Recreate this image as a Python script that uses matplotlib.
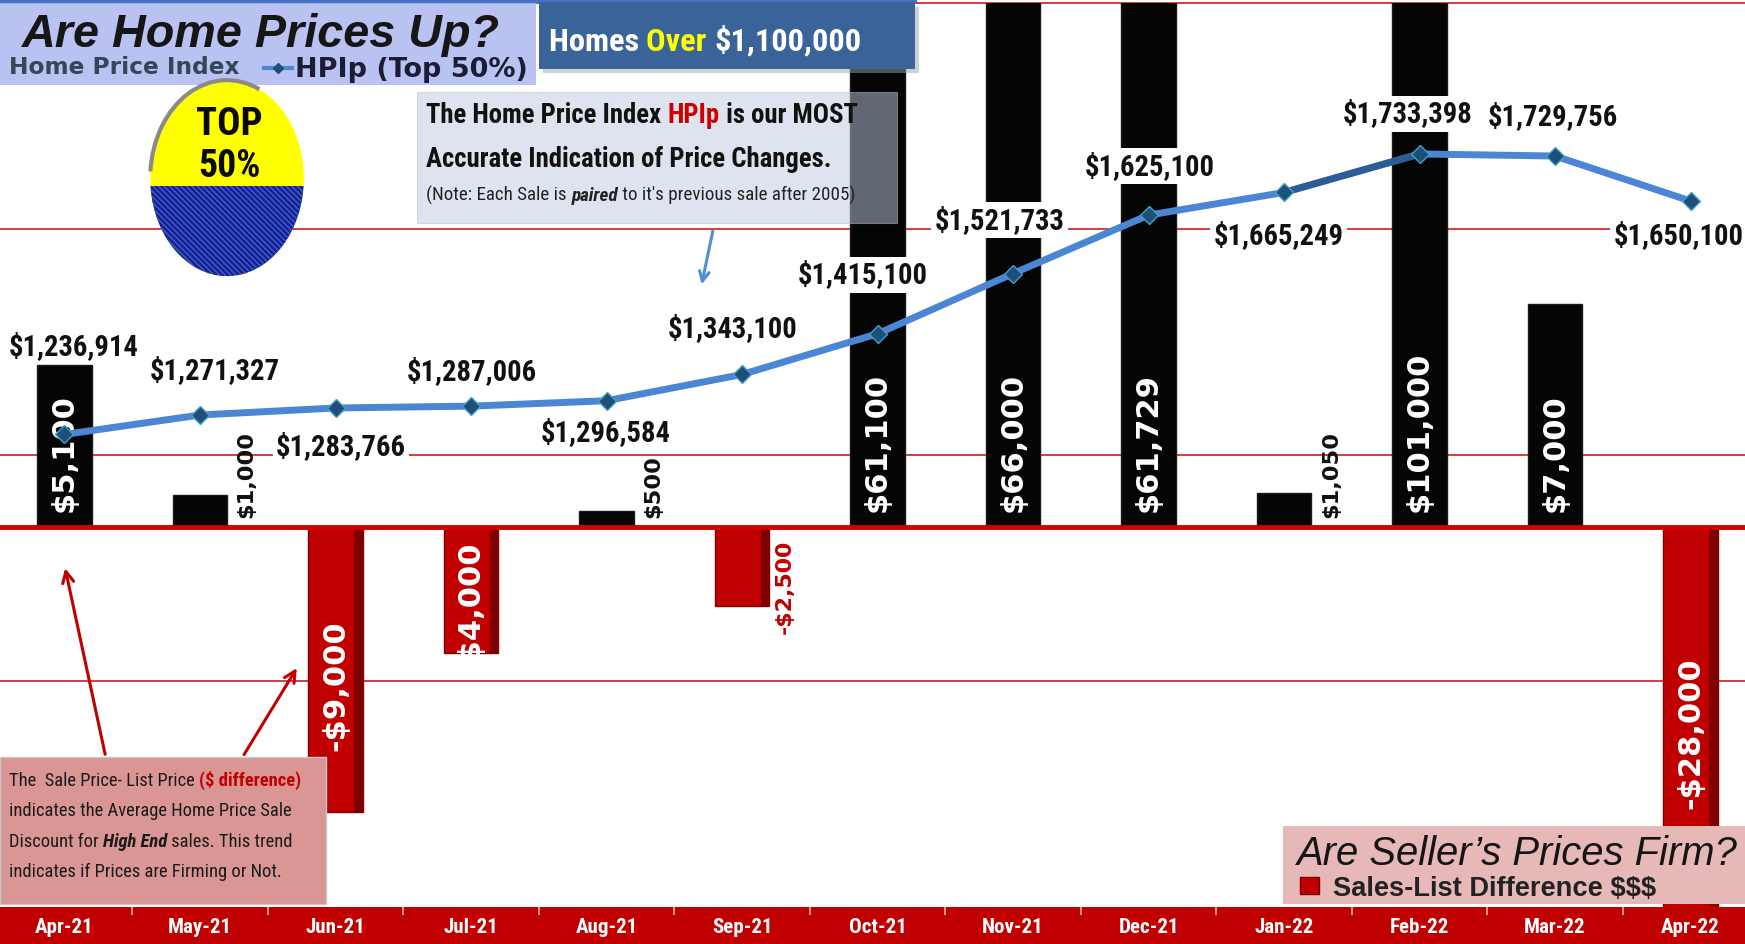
import numpy as np
import matplotlib
matplotlib.use('Agg')
import matplotlib.pyplot as plt
from matplotlib import font_manager as fm
from matplotlib import transforms
from matplotlib.patches import Rectangle, Ellipse, Arc
from matplotlib.font_manager import FontProperties
from matplotlib.lines import Line2D

# ---------------- data ----------------
months = ['Apr-21', 'May-21', 'Jun-21', 'Jul-21', 'Aug-21', 'Sep-21', 'Oct-21',
          'Nov-21', 'Dec-21', 'Jan-22', 'Feb-22', 'Mar-22', 'Apr-22']
hpip = [1236914, 1271327, 1283766, 1287006, 1296584, 1343100, 1415100,
        1521733, 1625100, 1665249, 1733398, 1729756, 1650100]
sales_list_diff = [5100, 1000, -9000, -4000, 500, -2500, 61100,
                   66000, 61729, 1050, 101000, 7000, -28000]
hpi_gridlines = [800000, 1200000, 1600000, 2000000]

# label offsets for HPIp labels (reference pixels; style only)
lab_dx = [8, 13, 5, 1, -1, -8, -13, -12, 1, -5, -11, -2, -11]
lab_dy = [-79, -40, 35, -31, 29, -41, -53, -48, -44, 39, -36, -35, 31]

# ---------------- fonts ----------------
names = {f.name for f in fm.fontManager.ttflist}


def pick_narrow():
    for n in ['Liberation Sans Narrow', 'Arial Narrow', 'Roboto Condensed',
              'Noto Sans Condensed', 'Open Sans Condensed', 'DejaVu Sans Condensed']:
        if n in names:
            return (n, 'normal')
    for pref in ['Roboto', 'Noto Sans', 'DejaVu Sans', 'Open Sans']:
        for f in fm.fontManager.ttflist:
            if f.name == pref and str(f.stretch) in ('condensed', 'semi-condensed', 'extra-condensed', '400', '300'):
                return (pref, 'condensed')
    return ('Liberation Sans', 'normal')


NARROW, NSTRETCH = pick_narrow()
SANS = 'Liberation Sans'
VER = 'DejaVu Sans'
N = 'N'   # marker for the narrow family
plt.rcParams['hatch.linewidth'] = 1.3

W, H = 1745, 944
RW, RH = 1568, 848
S = W / RW            # fig px per reference px
PT = S * 0.72         # points per reference px

fig = plt.figure(figsize=(W / 100, H / 100), dpi=100)
fig.patch.set_facecolor('white')

top_px, bot_px = 3, 815
rect = [0, 1 - bot_px / RH, 1, (bot_px - top_px) / RH]
x = np.arange(len(months))
XL = (-0.476, 12.402)

# base axes: gridlines of HPI scale
axg = fig.add_axes(rect)
axg.set_xlim(*XL)
axg.set_ylim(400000, 2000000)
for v in hpi_gridlines:
    axg.axhline(v, color='#D63C3C', lw=1.4, clip_on=False)
axg.set_yticks([])
axg.set_xticks(x)
axg.set_xticklabels([])
axg.set_xticks(np.arange(-0.5, len(months), 1), minor=True)
axg.tick_params(axis='x', which='major', length=0)
axg.tick_params(axis='x', which='minor', length=6, width=1.2, color='#E9B5B5', direction='out')
for sp in axg.spines.values():
    sp.set_visible(False)

# bars axes
axb = axg.twinx()
axb.set_xlim(*XL)
BLO, BHI = -12000, 16490
axb.set_ylim(BLO, BHI)
bar_colors = ['#050505' if v >= 0 else '#C00000' for v in sales_list_diff]
edge_colors = ['#1A1A1A' if v >= 0 else '#800000' for v in sales_list_diff]
axb.bar(x, sales_list_diff, width=0.4, color=bar_colors, edgecolor=edge_colors, lw=1, zorder=2)
neg = [i for i, v in enumerate(sales_list_diff) if v < 0]
axb.bar(x[neg] + 0.17, [sales_list_diff[i] for i in neg], width=0.06, color='#7E0000', lw=0, zorder=2.1)
axb.axhline(0, color='#D00000', lw=3.5, zorder=3)
axb.set_yticks([])
for sp in axb.spines.values():
    sp.set_visible(False)

# line axes
axl = axg.twinx()
axl.set_xlim(*XL)
axl.set_ylim(400000, 2000000)
axl.set_yticks([])
for sp in axl.spines.values():
    sp.set_visible(False)
axl.plot(x, hpip, color='#4A86D4', lw=5, solid_capstyle='round', zorder=3)
axl.plot(x[9:11], hpip[9:11], color='#2C5C94', lw=5, solid_capstyle='round', zorder=3.1)
axl.plot(x, hpip, ls='none', marker='D', ms=9, mfc='#1F4E79', mec='#3FA2C8', mew=1, zorder=4)

# overlay axes in reference pixel coordinates
ov = fig.add_axes([0, 0, 1, 1], zorder=10)
ov.set_xlim(0, RW)
ov.set_ylim(RH, 0)
ov.axis('off')
ov.patch.set_visible(False)

R = fig.canvas.get_renderer()


def fp(family, size, weight='normal', style='normal'):
    if family == N:
        return FontProperties(family=NARROW, stretch=NSTRETCH, size=size, weight=weight, style=style)
    return FontProperties(family=family, size=size, weight=weight, style=style)


def adv(s, prop):
    t1 = ov.text(0, 0, s + 'l', fontproperties=prop)
    t2 = ov.text(0, 0, 'l', fontproperties=prop)
    w = t1.get_window_extent(R).width - t2.get_window_extent(R).width
    t1.remove(); t2.remove()
    return w / S


def fit(s, family, weight, style, width):
    return 10 * width / adv(s, fp(family, 10, weight, style))


def rich(x0, cy, pieces, size=None, right=None, z=20):
    if right is not None:
        tot = sum(adv(p[0], fp(p[2], 10, p[3], p[4])) for p in pieces)
        size = 10 * (right - x0) / tot
    base = cy + 0.36 * size * (100 / 72) / S
    cx = x0
    for (s, c, fam, w, st) in pieces:
        prop = fp(fam, size, w, st)
        ov.text(cx, base, s, fontproperties=prop, color=c, ha='left', va='baseline', zorder=z)
        cx += adv(s, prop)
    return size


# bottom red band (behind axes)
fig.add_artist(Rectangle((0, 0), 1, 1 - bot_px / RH, transform=fig.transFigure,
                         facecolor='#C00000', edgecolor='none', zorder=-1))
ML = fit('Apr-21', N, 'bold', 'normal', 53)
btrans = transforms.blended_transform_factory(axg.transData, ov.transData)
for i, m in enumerate(months):
    ov.text(i, 833, m, transform=btrans, ha='center', va='center', color='white',
            fontproperties=fp(N, ML, 'bold'))

# HPIp data labels
LS = fit('$1,236,914', N, 'bold', 'normal', 117)
for i, v in enumerate(hpip):
    axl.annotate(f'${v:,}', xy=(i, v), xytext=(lab_dx[i] * PT, -lab_dy[i] * PT),
                 textcoords='offset points', ha='center', va='center',
                 fontproperties=fp(N, LS, 'bold'), color='#111111', zorder=6,
                 bbox=dict(boxstyle='square,pad=0.12', fc='white', ec='none'))

# bar labels
BIG = fit('$61,100', VER, 'bold', 'normal', 125)
SMALL = fit('$1,000', VER, 'bold', 'normal', 78)
NEGS = fit('-$2,500', VER, 'bold', 'normal', 85)


def money(v):
    return ('-' if v < 0 else '') + f'${abs(v):,}'


for i, v in enumerate(sales_list_diff):
    t = money(v)
    if v >= 4000:
        axb.annotate(t, xy=(i, 0), xytext=(0, 13 * PT), textcoords='offset points',
                     rotation=90, ha='center', va='bottom', color='white',
                     fontproperties=fp(VER, BIG, 'bold'), zorder=5)
    elif v >= 0:
        axb.annotate(t, xy=(i, 0), xytext=(42 * PT, 8 * PT), textcoords='offset points',
                     rotation=90, ha='center', va='bottom', color='#111111',
                     fontproperties=fp(VER, SMALL, 'bold'), zorder=5)
    elif v <= -4000:
        yc = max(v, BLO) / 2
        axb.annotate(t, xy=(i, yc), xytext=(0, -15 * PT), textcoords='offset points',
                     rotation=90, ha='center', va='center', color='white',
                     fontproperties=fp(VER, BIG, 'bold'), zorder=5)
    else:
        axb.annotate(t, xy=(i, 0), xytext=(38 * PT, -12 * PT), textcoords='offset points',
                     rotation=90, ha='center', va='top', color='#C00000',
                     fontproperties=fp(VER, NEGS, 'bold'), zorder=5)

# ---------------- overlay decorations ----------------
# title box
ov.add_patch(Rectangle((0, 0), 482, 76, fc='#B9C2F1', ec='none', zorder=1))
ov.plot([0, 822], [0.8, 0.8], color='#4472C4', lw=2.5, zorder=2)
rich(20, 27, [('Are Home Prices Up?', '#161616', SANS, 'bold', 'italic')], right=450)
rich(8, 59, [('Home Price Index', '#34475A', VER, 'bold', 'normal')], right=215)
ov.add_line(Line2D([237, 262], [61, 61], color='#4A86D4', lw=3, zorder=20))
ov.add_line(Line2D([250], [61], marker='D', ms=5, mfc='#1F4E79', mec='#1F4E79', zorder=21))
rich(265, 60, [('HPIp (Top 50%)', '#1C1C36', VER, 'bold', 'normal')], right=475)

# Homes over box
ov.add_patch(Rectangle((488, 6), 338, 60, fc='#9AA4B4', ec='none', alpha=0.5, zorder=1))
ov.add_patch(Rectangle((484, 2), 338, 60, fc='#3A6399', ec='none', zorder=2))
rich(493, 35, [('Homes ', 'white', N, 'bold', 'normal'),
               ('Over ', '#FFFF00', N, 'bold', 'normal'),
               ('$1,100,000', 'white', N, 'bold', 'normal')], right=773)

# note box
ov.add_patch(Rectangle((375, 83), 431, 117, fc=(191 / 255, 203 / 255, 225 / 255), alpha=0.5,
                       ec='#B8BEC8', lw=0.8, zorder=1))
s1 = rich(383, 102, [('The Home Price Index ', '#111111', N, 'bold', 'normal'),
                     ('HPIp', '#D00000', N, 'bold', 'normal'),
                     (' is our MOST', '#111111', N, 'bold', 'normal')], right=772)
rich(383, 141, [('Accurate Indication of Price Changes.', '#111111', N, 'bold', 'normal')], size=s1)
rich(383, 174, [('(Note: Each Sale is ', '#222222', N, 'normal', 'normal'),
                ('paired', '#222222', N, 'bold', 'italic'),
                (" to it's previous sale after 2005)", '#222222', N, 'normal', 'normal')], right=765)
ov.annotate('', xy=(630, 258), xytext=(641, 205),
            arrowprops=dict(arrowstyle='->,head_length=0.7,head_width=0.35', color='#4F8FD8', lw=2.2))

# TOP 50% circle
cx, cy, ew, eh = 204, 160, 138, 176
ov.add_patch(Ellipse((cx, cy), ew, eh, fc='#FFFF00', ec='none', zorder=2))
clip = Rectangle((cx - 80, 167), 160, 100, transform=ov.transData)
bottom = Ellipse((cx, cy), ew, eh, fc='#131E86', ec='#3A52CC', lw=0,
                 hatch='\\\\\\\\\\\\', zorder=3)
ov.add_patch(bottom)
bottom.set_clip_path(clip)
ov.add_patch(Arc((cx, cy), ew, eh, theta1=185, theta2=290, color='#8A8A8A', lw=3, zorder=4))
TS = fit('TOP', N, 'bold', 'normal', 60)
TS2 = fit('50%', N, 'bold', 'normal', 56)
ov.text(206, 112, 'TOP', ha='center', va='center', fontproperties=fp(N, TS, 'bold'),
        color='#0A0A0A', zorder=5)
ov.text(206, 150, '50%', ha='center', va='center', fontproperties=fp(N, TS2, 'bold'),
        color='#0A0A0A', zorder=5)

# description box + arrows
ov.annotate('', xy=(58, 508), xytext=(95, 680),
            arrowprops=dict(arrowstyle='->,head_length=0.8,head_width=0.4', color='#C00000', lw=2.2))
ov.annotate('', xy=(268, 598), xytext=(218, 680),
            arrowprops=dict(arrowstyle='->,head_length=0.8,head_width=0.4', color='#C00000', lw=2.2))
ov.add_patch(Rectangle((0, 680), 293, 132, fc='#D99694', ec='#C9C9C9', lw=1, zorder=1))
ds = rich(8, 700, [('The  Sale Price- List Price ', '#1A1A1A', N, 'normal', 'normal'),
                   ('($ difference)', '#C00000', N, 'bold', 'normal')], right=270)
rich(8, 727, [('indicates the Average Home Price Sale', '#1A1A1A', N, 'normal', 'normal')], size=ds)
rich(8, 755, [('Discount for ', '#1A1A1A', N, 'normal', 'normal'),
              ('High End', '#1A1A1A', N, 'bold', 'italic'),
              (' sales. This trend', '#1A1A1A', N, 'normal', 'normal')], size=ds)
rich(8, 782, [('indicates if Prices are Firming or Not.', '#1A1A1A', N, 'normal', 'normal')], size=ds)

# legend box bottom right
ov.add_patch(Rectangle((1153, 742), 415, 70, fc='#E6B8B7', ec='none', zorder=1))
rich(1165, 764, [('Are Seller\u2019s Prices Firm?', '#151515', SANS, 'normal', 'italic')], right=1562)
ov.add_patch(Rectangle((1168, 788), 17, 15, fc='#C00000', ec='#7A0000', lw=1, zorder=3))
rich(1198, 796, [('Sales-List Difference $$$', '#222222', SANS, 'bold', 'normal')], right=1488)

fig.savefig('out.png', dpi=100)
